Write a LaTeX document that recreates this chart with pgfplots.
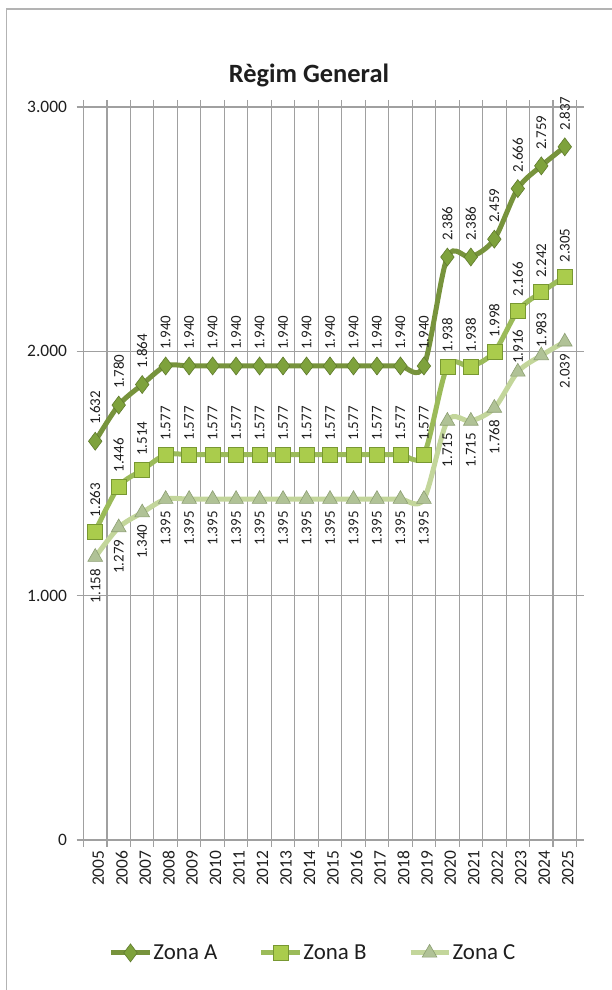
\documentclass[border=0pt]{standalone}
\usepackage{pgfplots}
\pgfplotsset{compat=1.18}
\usepackage{pgfplotstable}
\usepackage{fontspec}
\setmainfont{Carlito}
\definecolor{gridgray}{RGB}{160,160,160}
\definecolor{txt}{RGB}{30,30,30}
\definecolor{lineA}{RGB}{119,147,60}
\definecolor{lineB}{RGB}{155,187,89}
\definecolor{lineC}{RGB}{195,214,155}
\definecolor{markA}{RGB}{126,162,60}
\definecolor{markAd}{RGB}{95,122,45}
\definecolor{markB}{RGB}{170,204,76}
\definecolor{markBd}{RGB}{120,152,50}
\definecolor{markC}{RGB}{176,194,150}
\definecolor{markCd}{RGB}{140,158,115}

\pgfplotstableread{
x A B C
0 1632 1263 1158
1 1780 1446 1279
2 1864 1514 1340
3 1940 1577 1395
4 1940 1577 1395
5 1940 1577 1395
6 1940 1577 1395
7 1940 1577 1395
8 1940 1577 1395
9 1940 1577 1395
10 1940 1577 1395
11 1940 1577 1395
12 1940 1577 1395
13 1940 1577 1395
14 1940 1577 1395
15 2386 1938 1715
16 2386 1938 1715
17 2459 1998 1768
18 2666 2166 1916
19 2759 2242 1983
20 2837 2305 2039
}\data

\begin{document}
\begin{tikzpicture}
\path[use as bounding box] (0,0) rectangle (612bp,990bp);
\draw[gridgray!80, line width=1.2bp] (6.5bp,0) -- (6.5bp,981bp) -- (612bp,981bp);
\node[font=\bfseries\fontsize{26.5}{31}\selectfont, text=txt] at (309bp,915bp) {Règim General};
\begin{axis}[
  at={(83.5bp,150bp)}, anchor=south west,
  scale only axis, width=493bp, height=733bp,
  xmin=-0.5, xmax=20.5, ymin=0, ymax=3000,
  xtick={0,...,20},
  xticklabels={2005,2006,2007,2008,2009,2010,2011,2012,2013,2014,2015,2016,2017,2018,2019,2020,2021,2022,2023,2024,2025},
  minor xtick={-0.5,0.5,1.5,2.5,3.5,4.5,5.5,6.5,7.5,8.5,9.5,10.5,11.5,12.5,13.5,14.5,15.5,16.5,17.5,18.5,19.5,20.5},
  xminorgrids,
  ytick={0,1000,2000,3000},
  ymajorgrids,
  tick align=outside,
  major tick length=7bp,
  minor tick length=7bp,
  major x tick style={draw=none},
  tick style={gridgray, line width=1.1bp},
  grid style={gridgray, line width=1.1bp},
  minor grid style={gridgray, line width=1.1bp},
  axis line style={gridgray, line width=1.1bp},
  x tick label style={rotate=90, anchor=east, font=\fontsize{17.5}{20}\selectfont, text=txt, yshift=-3bp},
  y tick label style={font=\fontsize{17.5}{20}\selectfont, text=txt, xshift=-6bp},
  /pgf/number format/1000 sep={.},
  /pgf/number format/assume math mode=true,
  legend columns=3,
  legend style={at={(0.4655,-0.154)}, anchor=center, draw=none, fill=none,
    font=\fontsize{23}{27}\selectfont, text=txt,
    /tikz/every even column/.append style={column sep=40bp},
    nodes={inner xsep=1.5bp}},
  legend cell align=left,
  legend image code/.code={\draw[mark repeat=2, mark phase=2] plot coordinates {(0bp,0bp) (19bp,0bp) (38bp,0bp)};},
  every node near coord/.append style={font=\fontsize{15}{18}\selectfont, text=txt, rotate=90},
]
\addplot[lineA, line width=5bp, smooth, mark=diamond*, mark size=9bp,
  mark options={fill=markA, draw=markAd, line width=0.6bp},
  nodes near coords, every node near coord/.append style={anchor=west, inner xsep=16bp}]
  table[x=x, y=A] {\data};
\addlegendentry{Zona A}
\addplot[lineB, line width=5bp, smooth, mark=square*, mark size=7.5bp,
  mark options={fill=markB, draw=markBd, line width=0.6bp},
  nodes near coords, every node near coord/.append style={anchor=west, inner xsep=14bp}]
  table[x=x, y=B] {\data};
\addlegendentry{Zona B}
\addplot[lineC, line width=5bp, smooth, mark=triangle*, mark size=8.5bp,
  mark options={fill=markC, draw=markCd, line width=0.6bp}]
  table[x=x, y=C] {\data};
\addlegendentry{Zona C}
\addplot[draw=none, mark=none, forget plot, nodes near coords,
  skip coords between index={18}{20},
  every node near coord/.append style={anchor=east, inner xsep=12bp}]
  table[x=x, y=C] {\data};
\addplot[draw=none, mark=none, forget plot, nodes near coords,
  every node near coord/.append style={anchor=west, inner xsep=8bp}]
  coordinates {(18,1916) (19,1983)};
\end{axis}
\end{tikzpicture}
\end{document}
